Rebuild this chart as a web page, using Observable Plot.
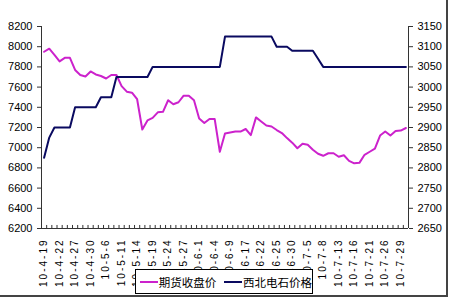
<!DOCTYPE html>
<html>
<head>
<meta charset="utf-8">
<script src="https://cdn.jsdelivr.net/npm/d3@7"></script>
<script src="https://cdn.jsdelivr.net/npm/@observablehq/plot@0.6"></script>
<style>
  html, body { margin: 0; padding: 0; background: #fff; }
  #wrap { position: relative; width: 450px; height: 300px; overflow: hidden; background: #fff; font-family: "Liberation Sans", Arial, sans-serif; }
  #wrap svg { position: absolute; left: 0; top: 0; }
  g[aria-label="x-axis tick label"] text { letter-spacing: 2px; }
  #frameR { position: absolute; left: 446px; top: 0; width: 2px; height: 297px; background: #444; }
  #frameB { position: absolute; left: 0; top: 295px; width: 448px; height: 2px; background: #444; }
  #legend { position: absolute; left: 135px; top: 269px; width: 176px; height: 23px; border: 1px solid #000; background: #fff;
            display: flex; align-items: center; font-family: "Noto Sans CJK SC", sans-serif; font-size: 11.5px; color: #000; }
  .sw { display: inline-block; width: 23px; height: 2px; margin-left: 4px; margin-right: 1px; }
  .lab { white-space: nowrap; }
</style>
</head>
<body>
<div id="wrap">
  <div id="chart"></div>
  <div id="frameR"></div>
  <div id="frameB"></div>
  <div id="legend"></div>
</div>
<script>
const dates = [
  "10-4-19","10-4-20","10-4-21","10-4-22","10-4-23","10-4-26","10-4-27","10-4-28","10-4-29","10-4-30",
  "10-5-4","10-5-5","10-5-6","10-5-7","10-5-10","10-5-11","10-5-12","10-5-13","10-5-14","10-5-17",
  "10-5-18","10-5-19","10-5-20","10-5-21","10-5-24","10-5-25","10-5-26","10-5-27","10-5-28","10-5-31",
  "10-6-1","10-6-2","10-6-3","10-6-4","10-6-7","10-6-8","10-6-9","10-6-10","10-6-11","10-6-17",
  "10-6-18","10-6-21","10-6-22","10-6-23","10-6-24","10-6-25","10-6-28","10-6-29","10-6-30","10-7-1",
  "10-7-2","10-7-5","10-7-6","10-7-7","10-7-8","10-7-9","10-7-12","10-7-13","10-7-14","10-7-15",
  "10-7-16","10-7-19","10-7-20","10-7-21","10-7-22","10-7-23","10-7-26","10-7-27","10-7-28","10-7-29",
  "10-7-30"
];
const futures = [
  7950,7980,7920,7855,7890,7890,7770,7720,7705,7755,
  7725,7710,7685,7720,7720,7610,7555,7545,7480,7180,
  7270,7295,7350,7355,7470,7430,7450,7515,7515,7470,
  7290,7245,7285,7285,6960,7140,7150,7160,7160,7185,
  7125,7300,7260,7220,7210,7175,7145,7095,7050,6995,
  7040,7030,6980,6940,6920,6945,6945,6910,6925,6870,
  6845,6850,6930,6960,6990,7120,7160,7120,7165,7170,7195
];
const carbide = [
  2825,2875,2900,2900,2900,2900,2950,2950,2950,2950,
  2950,2975,2975,2975,3025,3025,3025,3025,3025,3025,
  3025,3050,3050,3050,3050,3050,3050,3050,3050,3050,
  3050,3050,3050,3050,3050,3125,3125,3125,3125,3125,
  3125,3125,3125,3125,3125,3100,3100,3100,3090,3090,
  3090,3090,3090,3070,3050,3050,3050,3050,3050,3050,
  3050,3050,3050,3050,3050,3050,3050,3050,3050,3050,3050
];
const seriesNames = ["期货收盘价", "西北电石价格"];
const seriesColors = ["#cc22cc", "#0a0a60"];
const leftTicks = [6200,6400,6600,6800,7000,7200,7400,7600,7800,8000,8200];
const rightTicks = [2650,2700,2750,2800,2850,2900,2950,3000,3050,3100,3150];
const labelEvery = 3;

const L0 = leftTicks[0], L1 = leftTicks[leftTicks.length - 1];
const R0 = rightTicks[0], R1 = rightTicks[rightTicks.length - 1];
const toLeft = v => L0 + (v - R0) * (L1 - L0) / (R1 - R0);
const toRight = v => Math.round(R0 + (v - L0) * (R1 - R0) / (L1 - L0));

const idx = dates.map((d, i) => i);
const futData = idx.map(i => ({i, v: futures[i]}));
const carData = idx.map(i => ({i, v: toLeft(carbide[i])}));
const labelIdx = idx.filter(i => i % labelEvery === 0);
const bounds = d3.range(dates.length + 1).map(k => k - 0.5);
const lo = -0.5, hi = dates.length - 0.5;

const chart = Plot.plot({
  width: 450,
  height: 300,
  marginLeft: 41,
  marginRight: 42,
  marginTop: 26,
  marginBottom: 72,
  style: { fontFamily: "'Liberation Sans', Arial, sans-serif", fontSize: "11px", color: "#000", background: "transparent" },
  x: { type: "linear", domain: [lo, hi] },
  y: { domain: [L0, L1] },
  marks: [
    Plot.ruleX([lo], { stroke: "#333", strokeWidth: 1 }),
    Plot.ruleX([hi], { stroke: "#333", strokeWidth: 1 }),
    Plot.ruleY([L0], { stroke: "#333", strokeWidth: 1 }),
    Plot.ruleX(bounds, { x: d => d, y1: L0, y2: L0 + 30, stroke: "#333", strokeWidth: 1 }),
    Plot.axisY({ anchor: "left", ticks: leftTicks, tickFormat: d => String(d), tickSize: 4, tickPadding: 5, label: null, stroke: "#333" }),
    Plot.axisY({ anchor: "right", ticks: rightTicks.map(toLeft), tickFormat: d => String(toRight(d)), tickSize: 4, tickPadding: 5, label: null, stroke: "#333" }),
    Plot.axisX({ ticks: labelIdx, tickFormat: i => dates[i], tickRotate: -90, tickSize: 0, tickPadding: 10, label: null, fontSize: 10 }),
    Plot.line(futData, { x: "i", y: "v", stroke: seriesColors[0], strokeWidth: 2 }),
    Plot.line(carData, { x: "i", y: "v", stroke: seriesColors[1], strokeWidth: 2 })
  ]
});
document.getElementById("chart").appendChild(chart);

const legend = document.getElementById("legend");
seriesNames.forEach((name, k) => {
  const sw = document.createElement("span");
  sw.className = "sw";
  sw.style.background = seriesColors[k];
  if (k === 1) sw.style.marginLeft = "8px";
  const lab = document.createElement("span");
  lab.className = "lab";
  lab.textContent = name;
  legend.appendChild(sw);
  legend.appendChild(lab);
});
</script>
</body>
</html>
